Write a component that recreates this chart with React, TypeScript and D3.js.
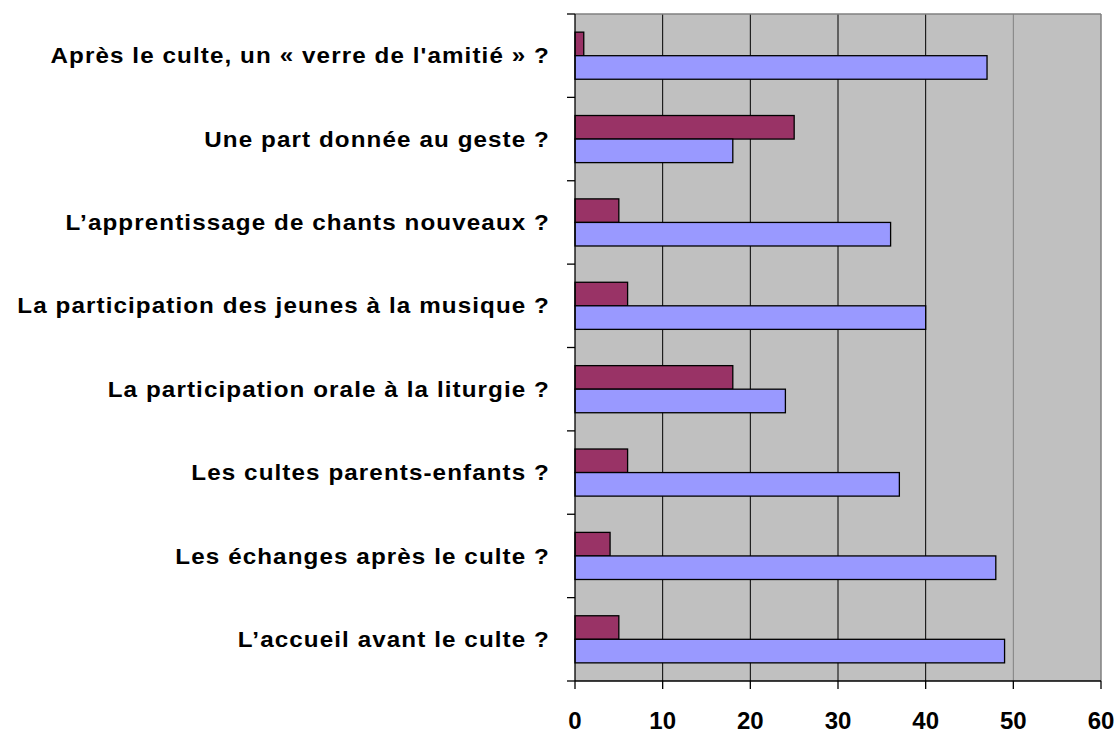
import React from "react";
import { scaleBand, scaleLinear } from "d3";

// categories from top to bottom
const categories = [
    "Après le culte, un « verre de l'amitié » ?",
    "Une part donnée au geste ?",
    "L’apprentissage de chants nouveaux ?",
    "La participation des jeunes à la musique ?",
    "La participation orale à la liturgie ?",
    "Les cultes parents-enfants ?",
    "Les échanges après le culte ?",
    "L’accueil avant le culte ?",
];
const seriesMaroon = [1, 25, 5, 6, 18, 6, 4, 5];
const seriesBlue = [47, 18, 36, 40, 24, 37, 48, 49];
const xTicks = [0, 10, 20, 30, 40, 50, 60];

const series = [
    { key: "a", values: seriesMaroon, color: "#993366" },
    { key: "b", values: seriesBlue, color: "#9999FF" },
];

const width = 1119;
const height = 733;
const plot = { left: 575, right: 1101, top: 14, bottom: 681 };

export default function App() {
    const x = scaleLinear().domain([0, 60]).range([plot.left, plot.right]);
    const y = scaleBand().domain(categories).range([plot.top, plot.bottom]);
    const inner = scaleBand()
        .domain(series.map(s => s.key))
        .range([0, y.bandwidth()])
        .paddingInner(0)
        .paddingOuter(0.77);

    const font = "'Liberation Sans', Arial, sans-serif";

    return (
        <div style={{ position: "absolute", left: 0, top: 0 }}>
            <svg width={width} height={height} style={{ display: "block", background: "#fff" }}>
                <rect x={plot.left} y={plot.top} width={plot.right - plot.left} height={plot.bottom - plot.top} fill="#C0C0C0" />

                {/* vertical gridlines */}
                {xTicks.slice(1, -1).map(t => (
                    <line key={"g" + t} x1={x(t)} x2={x(t)} y1={plot.top} y2={plot.bottom}
                        stroke={t === 50 ? "#808080" : "#000"} strokeWidth={1} />
                ))}
                {/* top and right border */}
                <line x1={plot.left} x2={plot.right} y1={plot.top} y2={plot.top} stroke="#808080" strokeWidth={1.5} />
                <line x1={plot.right} x2={plot.right} y1={plot.top} y2={plot.bottom} stroke="#808080" strokeWidth={1.5} />

                {/* bars */}
                {categories.map((c, i) => (
                    <g key={c}>
                        {series.map(s => (
                            <rect key={s.key}
                                x={x(0)}
                                y={(y(c) as number) + (inner(s.key) as number)}
                                width={x(s.values[i]) - x(0)}
                                height={inner.bandwidth()}
                                fill={s.color}
                                stroke="#000"
                                strokeWidth={1.3} />
                        ))}
                    </g>
                ))}

                {/* y axis */}
                <line x1={plot.left} x2={plot.left} y1={plot.top} y2={plot.bottom} stroke="#000" strokeWidth={1.3} />
                {categories.map(c => (
                    <line key={"yt" + c} x1={plot.left - 8} x2={plot.left} y1={y(c)} y2={y(c)} stroke="#000" strokeWidth={1.3} />
                ))}
                <line x1={plot.left - 8} x2={plot.left} y1={plot.bottom} y2={plot.bottom} stroke="#000" strokeWidth={1.3} />
                {categories.map(c => (
                    <text key={"yl" + c}
                        transform={`translate(550,${(y(c) as number) + y.bandwidth() / 2}) scale(1.1,1)`}
                        textAnchor="end" dominantBaseline="central"
                        style={{ fontFamily: font, fontWeight: "bold", fontSize: 22, letterSpacing: 1 }}>{c}</text>
                ))}

                {/* x axis */}
                <line x1={plot.left} x2={plot.right} y1={plot.bottom} y2={plot.bottom} stroke="#000" strokeWidth={1.3} />
                {xTicks.map(t => (
                    <g key={"xt" + t} transform={`translate(${x(t)},0)`}>
                        <line y1={plot.bottom} y2={plot.bottom + 8} stroke="#000" strokeWidth={1.3} />
                        <text y={729} textAnchor="middle"
                            style={{ fontFamily: font, fontWeight: "bold", fontSize: 24 }}>{t}</text>
                    </g>
                ))}
            </svg>
        </div>
    );
}
